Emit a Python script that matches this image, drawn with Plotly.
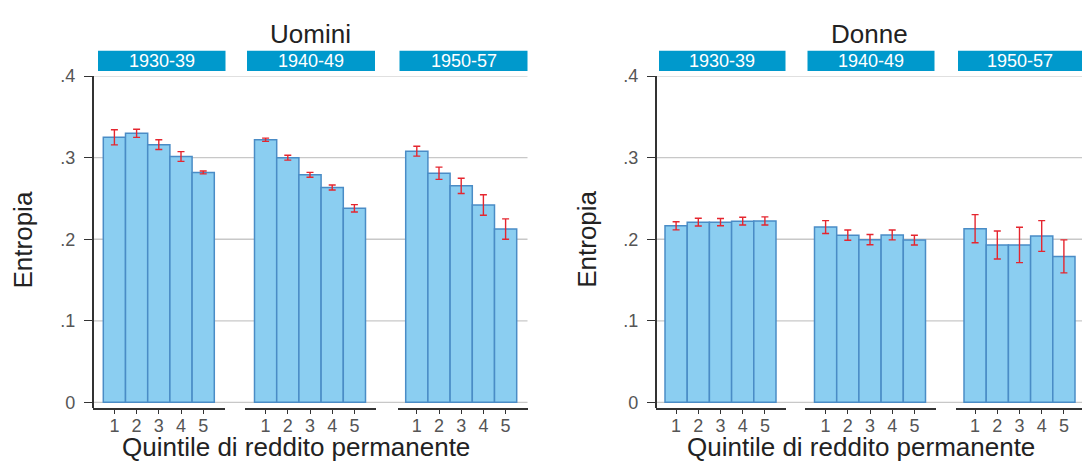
import plotly.graph_objects as go

W, H = 1085, 462

# ---- data -------------------------------------------------------------
cohorts = ["1930-39", "1940-49", "1950-57"]
quintiles = [1, 2, 3, 4, 5]
y_ticks = [0, 0.1, 0.2, 0.3, 0.4]
y_tick_labels = ["0", ".1", ".2", ".3", ".4"]

# Uomini: entropy by permanent-income quintile, with confidence half-widths
uomini_1930 = [0.325, 0.330, 0.316, 0.3015, 0.282]
uomini_1930_err = [0.0093, 0.005, 0.006, 0.006, 0.0018]
uomini_1940 = [0.322, 0.300, 0.279, 0.2635, 0.238]
uomini_1940_err = [0.002, 0.003, 0.003, 0.003, 0.0045]
uomini_1950 = [0.308, 0.281, 0.2655, 0.242, 0.2125]
uomini_1950_err = [0.006, 0.0075, 0.0093, 0.0125, 0.0125]

# Donne
donne_1930 = [0.2165, 0.221, 0.221, 0.2222, 0.2225]
donne_1930_err = [0.005, 0.0047, 0.0045, 0.0047, 0.005]
donne_1940 = [0.215, 0.205, 0.1995, 0.2053, 0.199]
donne_1940_err = [0.0079, 0.0063, 0.0063, 0.006, 0.006]
donne_1950 = [0.213, 0.193, 0.193, 0.204, 0.179]
donne_1950_err = [0.0172, 0.0172, 0.0217, 0.0188, 0.0202]

# ---- styling / geometry (pixels) ---------------------------------------
FONT = "Liberation Sans, Arial, Helvetica, sans-serif"
BAR_FILL = "#8bcef1"
BAR_EDGE = "#4a8cc6"
ERR_COL = "#e5262f"
HEAD_COL = "#0099cc"
GRID_COL = "#c8c8c8"
AXIS_COL = "#333333"
TICK_TXT = "#555555"
TITLE_COL = "#222222"

Y_TOP, Y_ZERO, Y_BOT = 68.4, 405.5, 411.0          # .4 tick, zero line, axis foot
Y_MIN = -(Y_BOT - Y_ZERO) / ((Y_ZERO - Y_TOP) / 0.4)
UNIT = 22.2                                        # bar width in px
HEAD_TOP, HEAD_BOT = 42, 63

panels = [
    dict(title="Uomini", yaxis_x=92.5, title_x=310, xtitle_x=296, ytitle_x=22.7,
         subs=[(92.5, 225, 103.3), (245, 376, 254.5), (397.5, 527.5, 405.7)],
         heads=[(98, 225.5), (247, 375), (399.5, 527.5)],
         series=[(uomini_1930, uomini_1930_err), (uomini_1940, uomini_1940_err),
                 (uomini_1950, uomini_1950_err)]),
    dict(title="Donne", yaxis_x=655.5, title_x=869, xtitle_x=861, ytitle_x=587,
         subs=[(655.5, 785.5, 665), (805, 936, 814.5), (956, 1082, 964)],
         heads=[(659, 785.5), (807.5, 934.5), (958, 1082)],
         series=[(donne_1930, donne_1930_err), (donne_1940, donne_1940_err),
                 (donne_1950, donne_1950_err)]),
]


def px(x):
    return x / W


def py(y):
    return 1 - y / H


fig = go.Figure()
layout = dict(
    width=W, height=H, margin=dict(l=0, r=0, t=0, b=0),
    paper_bgcolor="white", plot_bgcolor="white",
    font=dict(family=FONT), showlegend=False, barmode="overlay",
)
shapes, annotations = [], []

xi = 0
for pi, p in enumerate(panels):
    yname = "y" if pi == 0 else "y2"
    ykey = "yaxis" if pi == 0 else "yaxis2"
    layout[ykey] = dict(
        domain=[py(Y_BOT), py(Y_TOP)], range=[Y_MIN, 0.4],
        anchor="free", position=px(p["yaxis_x"]),
        showline=True, linecolor=AXIS_COL, linewidth=1.5,
        ticks="outside", ticklen=8, tickwidth=1.3, tickcolor=AXIS_COL,
        tickvals=y_ticks, ticktext=y_tick_labels, ticklabelstandoff=5,
        tickfont=dict(size=18, color=TICK_TXT, family=FONT),
        showgrid=False, zeroline=False, fixedrange=True,
    )
    right_end = p["subs"][-1][1]
    for v in y_ticks:
        shapes.append(dict(type="line", xref="paper", yref=yname,
                           x0=px(p["yaxis_x"]), x1=px(right_end), y0=v, y1=v,
                           line=dict(color=GRID_COL, width=1.3), layer="below"))

    for si, ((a0, a1, b0), (h0, h1), cohort, (vals, errs)) in enumerate(
            zip(p["subs"], p["heads"], cohorts, p["series"])):
        xi += 1
        xname = "x" if xi == 1 else f"x{xi}"
        xkey = "xaxis" if xi == 1 else f"xaxis{xi}"
        r0 = 0.5 - (b0 - a0) / UNIT
        r1 = r0 + (a1 - a0) / UNIT
        layout[xkey] = dict(
            domain=[px(a0), px(a1)], range=[r0, r1], anchor=yname,
            showline=True, linecolor=AXIS_COL, linewidth=1.5,
            ticks="outside", ticklen=5, tickwidth=1.3, tickcolor=AXIS_COL,
            tickvals=quintiles, ticktext=[str(q) for q in quintiles],
            ticklabelstandoff=-4,
            tickfont=dict(size=18, color=TICK_TXT, family=FONT),
            showgrid=False, zeroline=False, fixedrange=True,
        )
        fig.add_trace(go.Bar(
            x=quintiles, y=vals, width=1, xaxis=xname, yaxis=yname,
            marker=dict(color=BAR_FILL, line=dict(color=BAR_EDGE, width=1.5)),
            error_y=dict(type="data", array=errs, visible=True,
                         color=ERR_COL, thickness=1.4, width=3.5),
            hoverinfo="x+y",
        ))
        # cohort header strip
        shapes.append(dict(type="rect", xref="paper", yref="paper",
                           x0=px(h0), x1=px(h1), y0=py(HEAD_BOT), y1=py(HEAD_TOP),
                           fillcolor=HEAD_COL, line=dict(width=0)))
        annotations.append(dict(text=cohort, xref="paper", yref="paper",
                                x=px((h0 + h1) / 2), y=py((HEAD_TOP + HEAD_BOT) / 2),
                                xanchor="center", yanchor="middle", showarrow=False,
                                font=dict(size=18, color="white", family=FONT)))

    annotations.append(dict(text=p["title"], xref="paper", yref="paper",
                            x=px(p["title_x"]), y=py(25), xanchor="center",
                            yanchor="middle", showarrow=False,
                            font=dict(size=26, color=TITLE_COL, family=FONT)))
    annotations.append(dict(text="Quintile di reddito permanente", xref="paper",
                            yref="paper", x=px(p["xtitle_x"]), y=py(452),
                            xanchor="center", yanchor="middle", showarrow=False,
                            font=dict(size=26, color=TITLE_COL, family=FONT)))
    annotations.append(dict(text="Entropia", xref="paper", yref="paper",
                            x=px(p["ytitle_x"]), y=py(237.5), xanchor="center",
                            yanchor="middle", textangle=-90, showarrow=False,
                            font=dict(size=26, color=TITLE_COL, family=FONT)))

layout["shapes"] = shapes
layout["annotations"] = annotations
fig.update_layout(**layout)

fig.write_html("out.html")
